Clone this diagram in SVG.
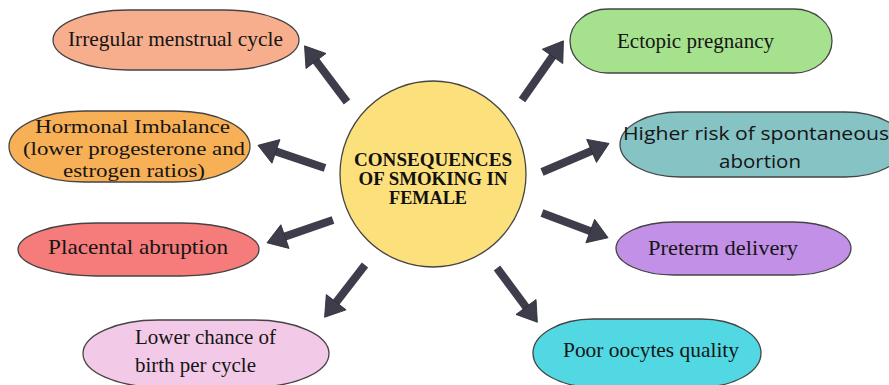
<svg xmlns="http://www.w3.org/2000/svg" width="889" height="385" viewBox="0 0 889 385">
<style>
.n{stroke:#444;stroke-width:1.3}
.t{font-family:"Liberation Serif","Times New Roman",serif;font-size:21px;fill:#151515;text-anchor:middle}
.h{font-size:19px}
.s{font-family:"Open Sans","Noto Sans",sans-serif;font-size:19px;fill:#151515;text-anchor:middle}
.c{font-family:"Liberation Serif","Times New Roman",serif;font-size:18px;font-weight:bold;fill:#111;text-anchor:middle}
.a{stroke:#3e3d4b;stroke-width:8;fill:none;marker-end:url(#h)}
</style>
<defs>
<marker id="h" markerUnits="userSpaceOnUse" viewBox="-1 -14 22 28" markerWidth="22" markerHeight="28" refX="1" refY="0" orient="auto">
<path d="M0,-12.5 L19,0 L0,12.5 z" fill="#3e3d4b" stroke="#2e2d38" stroke-width="0.8"/>
</marker>
</defs>
<rect width="889" height="385" fill="#fff"/>
<g id="connectors">
<line class="a" x1="347" y1="102" x2="315.4" y2="60.2"/>
<line class="a" x1="522" y1="100" x2="553.1" y2="55.6"/>
<line class="a" x1="325" y1="168" x2="275" y2="151.1"/>
<line class="a" x1="542" y1="172" x2="592.5" y2="150.5"/>
<line class="a" x1="333" y1="220" x2="284" y2="236.9"/>
<line class="a" x1="365" y1="265" x2="335.6" y2="303"/>
<line class="a" x1="542" y1="213" x2="591.2" y2="231.4"/>
<line class="a" x1="497" y1="268" x2="526.6" y2="307.8"/>
</g>
<g id="center">
<circle class="n" cx="433" cy="174" r="93" fill="#fce07c"/>
<text class="c" x="433" y="166" textLength="158" lengthAdjust="spacingAndGlyphs">CONSEQUENCES</text>
<text class="c" x="433" y="185" textLength="149" lengthAdjust="spacingAndGlyphs">OF SMOKING IN</text>
<text class="c" x="428" y="204" textLength="78" lengthAdjust="spacingAndGlyphs">FEMALE</text>
</g>
<g id="irregular">
<rect class="n" x="53" y="10" width="246" height="60" rx="75" ry="30" fill="#f7ae8d"/>
<text class="t" x="175.5" y="46" textLength="215" lengthAdjust="spacingAndGlyphs">Irregular menstrual cycle</text>
</g>
<g id="hormonal">
<rect class="n" x="9" y="111" width="241" height="71" rx="75" ry="35.5" fill="#f7b056"/>
<text class="t h" x="132.5" y="133" textLength="195" lengthAdjust="spacingAndGlyphs">Hormonal Imbalance</text>
<text class="t h" x="134" y="155" textLength="222" lengthAdjust="spacingAndGlyphs">(lower progesterone and</text>
<text class="t h" x="134" y="177" textLength="142" lengthAdjust="spacingAndGlyphs">estrogen ratios)</text>
</g>
<g id="placental">
<rect class="n" x="18" y="223" width="241" height="53" rx="78" ry="26.5" fill="#f67b7b"/>
<text class="t" x="138" y="254" textLength="180" lengthAdjust="spacingAndGlyphs">Placental abruption</text>
</g>
<g id="lower">
<rect class="n" x="83" y="320" width="246" height="67" rx="75" ry="33.5" fill="#f2c9e6"/>
<text class="t" x="205.5" y="344" textLength="141" lengthAdjust="spacingAndGlyphs">Lower chance of</text>
<text class="t" x="195.5" y="372" textLength="121" lengthAdjust="spacingAndGlyphs">birth per cycle</text>
</g>
<g id="ectopic">
<rect class="n" x="570" y="9" width="262" height="64" rx="38" ry="32" fill="#a6e28e"/>
<text class="t" x="695.5" y="48" textLength="157" lengthAdjust="spacingAndGlyphs">Ectopic pregnancy</text>
</g>
<g id="spontaneous">
<rect class="n" x="620" y="112" width="285" height="65" rx="60" ry="32.5" fill="#86c3c5"/>
<text class="s" x="756" y="140" textLength="266" lengthAdjust="spacingAndGlyphs">Higher risk of spontaneous</text>
<text class="s" x="760" y="168" textLength="82" lengthAdjust="spacingAndGlyphs">abortion</text>
</g>
<g id="preterm">
<rect class="n" x="616" y="222" width="235" height="53" rx="58" ry="26.5" fill="#c290e6"/>
<text class="t" x="723" y="255" textLength="150" lengthAdjust="spacingAndGlyphs">Preterm delivery</text>
</g>
<g id="oocytes">
<rect class="n" x="533" y="319" width="228" height="68" rx="60" ry="34" fill="#52d8e2"/>
<text class="t" x="651" y="357" textLength="176" lengthAdjust="spacingAndGlyphs">Poor oocytes quality</text>
</g>
</svg>
